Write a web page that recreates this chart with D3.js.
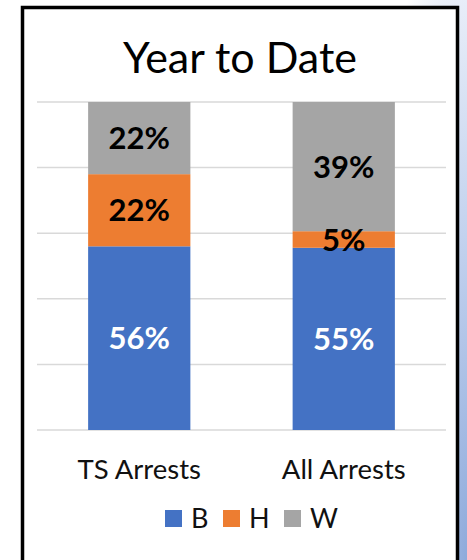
<!DOCTYPE html>
<html>
<head>
<meta charset="utf-8">
<script src="https://cdn.jsdelivr.net/npm/d3@7"></script>
<style>
  html, body { margin: 0; padding: 0; background: #fff; }
  svg { display: block; }
  text { font-family: Lato, "Open Sans", sans-serif; }
</style>
</head>
<body>
<svg id="chart" width="467" height="560"></svg>
<script>
// datos
const categories = ["TS Arrests", "All Arrests"];
const seriesNames = ["B", "H", "W"];
const bValues = [56, 55];
const hValues = [22, 5];
const wValues = [22, 39];
const yTicks = [0, 0.2, 0.4, 0.6, 0.8, 1];

const colors = { B: "#4472c4", H: "#ed7d31", W: "#a5a5a5" };
const labelColors = { B: "#ffffff", H: "#000000", W: "#000000" };

const rows = categories.map((c, i) => ({
  cat: c, B: bValues[i], H: hValues[i], W: wValues[i]
}));

const svg = d3.select("#chart");
const width = +svg.attr("width");
const height = +svg.attr("height");

// fondo con degradado azul en la esquina
const defs = svg.append("defs");
const grad = defs.append("radialGradient")
  .attr("id", "bg")
  .attr("gradientUnits", "userSpaceOnUse")
  .attr("cx", 467).attr("cy", 560).attr("r", 650)
  .attr("gradientTransform", "translate(467,560) scale(0.18,1) translate(-467,-560)");
grad.append("stop").attr("offset", 0).attr("stop-color", "#8eaadb");
grad.append("stop").attr("offset", 0.5).attr("stop-color", "#c3d2ee");
grad.append("stop").attr("offset", 0.88).attr("stop-color", "#eaeff9");
grad.append("stop").attr("offset", 1).attr("stop-color", "#ffffff");

svg.append("rect")
  .attr("width", width).attr("height", height)
  .attr("fill", "url(#bg)");

// marco del gráfico
svg.append("rect")
  .attr("x", 22.5).attr("y", 7.5)
  .attr("width", 435).attr("height", 620)
  .attr("fill", "#ffffff")
  .attr("stroke", "#000000")
  .attr("stroke-width", 3.5);

// escalas
const x = d3.scaleBand()
  .domain(categories)
  .range([37, 446])
  .paddingInner(0.5)
  .paddingOuter(0.25);

const y = d3.scaleLinear().domain([0, 1]).range([430, 102]);

// líneas de la cuadrícula
svg.append("g")
  .attr("class", "grid")
  .selectAll("line")
  .data(yTicks)
  .enter()
  .append("line")
  .attr("x1", 37).attr("x2", 446)
  .attr("y1", (d) => y(d)).attr("y2", (d) => y(d))
  .attr("stroke", "#d9d9d9")
  .attr("stroke-width", 1.5);

// título
svg.append("text")
  .attr("x", 240).attr("y", 73)
  .attr("text-anchor", "middle")
  .attr("font-size", 43)
  .attr("fill", "#000")
  .text("Year to Date");

// barras apiladas al 100%
const stacked = d3.stack()
  .keys(seriesNames)
  .offset(d3.stackOffsetExpand)(rows);

const layers = svg.append("g")
  .selectAll("g")
  .data(stacked)
  .enter()
  .append("g")
  .attr("fill", (d) => colors[d.key]);

layers.selectAll("rect")
  .data((d) => d)
  .enter()
  .append("rect")
  .attr("x", (d) => x(d.data.cat))
  .attr("width", x.bandwidth())
  .attr("y", (d) => y(d[1]))
  .attr("height", (d) => y(d[0]) - y(d[1]));

// etiquetas de porcentaje
stacked.forEach((layer) => {
  svg.append("g")
    .selectAll("text")
    .data(layer)
    .enter()
    .append("text")
    .attr("x", (d) => x(d.data.cat) + x.bandwidth() / 2)
    .attr("y", (d) => (y(d[0]) + y(d[1])) / 2)
    .attr("dy", "0.36em")
    .attr("text-anchor", "middle")
    .attr("font-size", 31)
    .attr("font-weight", "bold")
    .attr("fill", labelColors[layer.key])
    .text((d) => d.data[layer.key] + "%");
});

// eje x
const xAxis = svg.append("g")
  .attr("transform", "translate(0,430)")
  .call(d3.axisBottom(x).tickSize(0).tickPadding(0));
xAxis.select(".domain").remove();
xAxis.selectAll("text")
  .attr("y", 49)
  .attr("dy", 0)
  .attr("font-size", 27.5)
  .attr("font-family", "Lato, 'Open Sans', sans-serif")
  .attr("fill", "#111");

// leyenda
const legendX = [165, 223, 284];
const legend = svg.append("g")
  .selectAll("g")
  .data(seriesNames)
  .enter()
  .append("g")
  .attr("transform", (d, i) => `translate(${legendX[i]},510)`);

legend.append("rect")
  .attr("width", 17).attr("height", 17)
  .attr("fill", (d) => colors[d]);

legend.append("text")
  .attr("x", 26).attr("y", 18)
  .attr("font-size", 27)
  .attr("fill", "#111")
  .text((d) => d);
</script>
</body>
</html>
